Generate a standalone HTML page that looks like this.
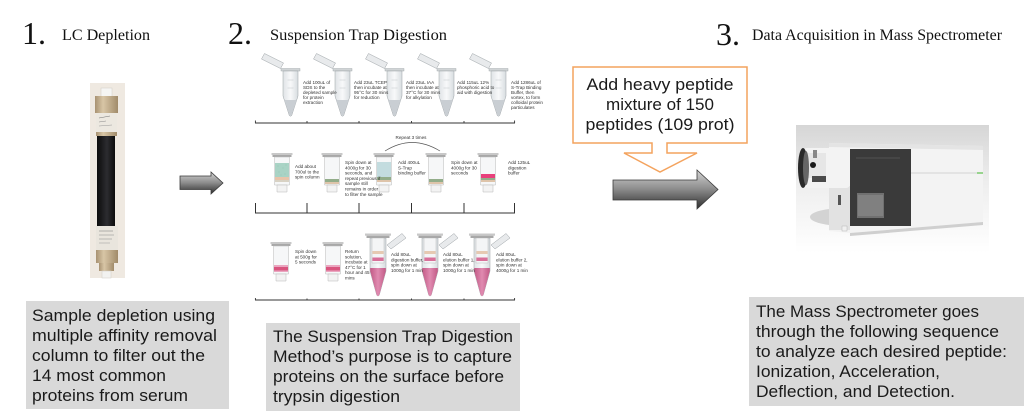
<!DOCTYPE html>
<html>
<head>
<meta charset="utf-8">
<style>
  html, body { margin:0; padding:0; background:#fff; }
  body { width:1024px; height:417px; overflow:hidden; }
  svg { display:block; }
  .serif { font-family:"Liberation Serif","DejaVu Serif",serif; fill:#111; }
  .sans { font-family:"Liberation Sans","DejaVu Sans",sans-serif; fill:#1a1a1a; }
  .tiny { font-family:"Liberation Sans","DejaVu Sans",sans-serif; font-size:4.6px; fill:#333; }
</style>
</head>
<body>
<svg width="1024" height="417" viewBox="0 0 1024 417" xmlns="http://www.w3.org/2000/svg">
  <defs>
    <linearGradient id="garrow" x1="0" y1="0" x2="0" y2="1">
      <stop offset="0" stop-color="#d4d4d4"/>
      <stop offset="0.5" stop-color="#8a8a8a"/>
      <stop offset="1" stop-color="#2e2e2e"/>
    </linearGradient>
    <linearGradient id="tan" x1="0" y1="0" x2="1" y2="0">
      <stop offset="0" stop-color="#a89272"/>
      <stop offset="0.35" stop-color="#d8c6a6"/>
      <stop offset="1" stop-color="#a18b6a"/>
    </linearGradient>
    <linearGradient id="blk" x1="0" y1="0" x2="1" y2="0">
      <stop offset="0" stop-color="#0c0c0c"/>
      <stop offset="0.55" stop-color="#2c2c30"/>
      <stop offset="1" stop-color="#0c0c0c"/>
    </linearGradient>
    <linearGradient id="msbg" x1="0" y1="0" x2="0" y2="1">
      <stop offset="0" stop-color="#d6d6d6"/>
      <stop offset="0.45" stop-color="#eeeeee"/>
      <stop offset="1" stop-color="#ffffff"/>
    </linearGradient>
    <linearGradient id="tube" x1="0" y1="0" x2="1" y2="0">
      <stop offset="0" stop-color="#dfe3e6"/>
      <stop offset="0.5" stop-color="#f8f9fa"/>
      <stop offset="1" stop-color="#d8dde0"/>
    </linearGradient>
    <linearGradient id="pink" x1="0" y1="0" x2="1" y2="0">
      <stop offset="0" stop-color="#c25a86"/>
      <stop offset="0.5" stop-color="#e08ab0"/>
      <stop offset="1" stop-color="#c25a86"/>
    </linearGradient>

    <!-- microcentrifuge tube, lid to upper-left -->
    <g id="mtube">
      <polygon points="-10,68.5 -29,59 -26,53.5 -7,63" fill="#e8eaec" stroke="#9aa0a4" stroke-width="0.5"/>
      <rect x="-9.5" y="68.5" width="19" height="2.5" fill="#d0d4d6" stroke="#9aa0a4" stroke-width="0.4"/>
      <path d="M-7.5,71 V96 L-1.2,115.5 Q0,117 1.2,115.5 L7.5,96 V71 Z" fill="url(#tube)" stroke="#9aa0a4" stroke-width="0.5"/>
      <path d="M-6.2,100 H6.2 L1,115.3 Q0,116.4 -1,115.3 Z" fill="#c9ced3"/>
      <line x1="-3" y1="80" x2="3" y2="80" stroke="#b5bbbf" stroke-width="0.4"/>
      <line x1="-3" y1="88" x2="3" y2="88" stroke="#b5bbbf" stroke-width="0.4"/>
    </g>

    <!-- spin column -->
    <g id="spin">
      <rect x="-10.5" y="0" width="21" height="2" fill="#c8c8c8"/>
      <rect x="-9.5" y="2" width="19" height="2" fill="#a8a8a8"/>
      <path d="M-7.5,4 V32 H7.5 V4 Z" fill="#f6f7f8" stroke="#b8b8b8" stroke-width="0.5"/>
      <path d="M-5,32 V39 H5 V32 Z" fill="#f3f3f3" stroke="#b8b8b8" stroke-width="0.5"/>
    </g>

    <!-- tube with column, lid to upper-right -->
    <g id="ctube">
      <polygon points="9,245 24,233.5 28,238 13,249" fill="#e8eaec" stroke="#9aa0a4" stroke-width="0.5"/>
      <path d="M-8,238 V271 L-1.3,295 Q0,297 1.3,295 L8,271 V238 Z" fill="url(#tube)" stroke="#9aa0a4" stroke-width="0.5"/>
      <path d="M-7.8,268 H7.8 V271 L1.3,295 Q0,297 -1.3,295 L-7.8,271 Z" fill="url(#pink)"/>
      <rect x="-6" y="238" width="12" height="25" fill="#f4f5f6" stroke="#b0b0b0" stroke-width="0.4"/>
      <rect x="-5.6" y="251" width="11.2" height="3" fill="#e6c9b2"/>
      <rect x="-5.6" y="257.5" width="11.2" height="3.5" fill="#d9709a"/>
      <rect x="-13" y="233.5" width="26" height="2.2" fill="#c8c8c8"/>
      <rect x="-11.5" y="235.7" width="23" height="2.3" fill="#a8a8a8"/>
    </g>
  </defs>

  <rect width="1024" height="417" fill="#fff"/>

  <!-- Headings -->
  <text class="serif" x="22" y="44" font-size="32">1.</text>
  <text class="serif" x="62" y="40" font-size="16" textLength="88" lengthAdjust="spacingAndGlyphs">LC Depletion</text>
  <text class="serif" x="228" y="44" font-size="32">2.</text>
  <text class="serif" x="270" y="40" font-size="16" textLength="177" lengthAdjust="spacingAndGlyphs">Suspension Trap Digestion</text>
  <text class="serif" x="716" y="45" font-size="32">3.</text>
  <text class="serif" x="752" y="40" font-size="16" textLength="250" lengthAdjust="spacingAndGlyphs">Data Acquisition in Mass Spectrometer</text>

  <!-- LC column photo -->
  <g>
    <rect x="90" y="83" width="35" height="195" fill="#efe9e1"/>
    <rect x="101" y="88" width="11" height="9" fill="#f5f5f3" stroke="#d0ccc4" stroke-width="0.5"/>
    <rect x="95" y="96" width="23" height="17" fill="url(#tan)"/>
    <rect x="96" y="113" width="21" height="20" fill="#ece8e0"/>
    <line x1="99" y1="118" x2="110" y2="116" stroke="#777" stroke-width="0.6"/>
    <line x1="99" y1="122" x2="106" y2="121" stroke="#888" stroke-width="0.5"/>
    <line x1="99" y1="126" x2="112" y2="125" stroke="#999" stroke-width="0.5"/>
    <rect x="96" y="132" width="21" height="4" fill="url(#tan)"/>
    <rect x="97" y="136" width="18" height="90" fill="url(#blk)"/>
    <rect x="96" y="226" width="22" height="24" fill="#e9e5dd"/>
    <line x1="99" y1="231" x2="113" y2="231" stroke="#777" stroke-width="0.5"/>
    <line x1="99" y1="235" x2="114" y2="235" stroke="#888" stroke-width="0.5"/>
    <line x1="99" y1="239" x2="112" y2="239" stroke="#888" stroke-width="0.5"/>
    <line x1="99" y1="243" x2="110" y2="243" stroke="#999" stroke-width="0.5"/>
    <rect x="96" y="250" width="22" height="13" fill="url(#tan)"/>
    <rect x="99" y="263" width="15" height="8" fill="url(#tan)"/>
    <rect x="102" y="271" width="9" height="7" fill="#f2f2f0" stroke="#d0ccc4" stroke-width="0.5"/>
  </g>

  <!-- Arrow 1 -->
  <path d="M180,176 L211,176 L211,172 L223,183 L211,194 L211,189.5 L180,189.5 Z" fill="url(#garrow)" stroke="#3a3a3a" stroke-width="0.8"/>

  <!-- Protocol row 1 -->
  <use href="#mtube" x="290.5" y="0"/>
  <use href="#mtube" x="342.5" y="0"/>
  <use href="#mtube" x="394.5" y="0"/>
  <use href="#mtube" x="446.5" y="0"/>
  <use href="#mtube" x="498.5" y="0"/>
  <text class="tiny"><tspan x="303" y="84">Add 100uL of</tspan><tspan x="303" dy="5">SDS to the</tspan><tspan x="303" dy="5">depleted sample</tspan><tspan x="303" dy="5">for protein</tspan><tspan x="303" dy="5">extraction</tspan></text>
  <text class="tiny"><tspan x="354" y="84">Add 23uL TCEP</tspan><tspan x="354" dy="5">then incubate at</tspan><tspan x="354" dy="5">95°C for 30 mins</tspan><tspan x="354" dy="5">for reduction</tspan></text>
  <text class="tiny"><tspan x="406" y="84">Add 23uL IAA</tspan><tspan x="406" dy="5">then incubate at</tspan><tspan x="406" dy="5">37°C for 30 mins</tspan><tspan x="406" dy="5">for alkylation</tspan></text>
  <text class="tiny"><tspan x="457" y="84">Add 115uL 12%</tspan><tspan x="457" dy="5">phosphoric acid to</tspan><tspan x="457" dy="5">aid with digestion</tspan></text>
  <text class="tiny"><tspan x="511" y="84">Add 1286uL of</tspan><tspan x="511" dy="5">S-Trap Binding</tspan><tspan x="511" dy="5">Buffer, then</tspan><tspan x="511" dy="5">vortex, to form</tspan><tspan x="511" dy="5">colloidal protein</tspan><tspan x="511" dy="5">particulates</tspan></text>
  <g stroke="#333" stroke-width="0.9" fill="none">
    <line x1="255" y1="123" x2="515" y2="123"/>
    <line x1="255.4" y1="120.5" x2="255.4" y2="123"/>
    <line x1="307" y1="121" x2="307" y2="123"/>
    <line x1="359" y1="121" x2="359" y2="123"/>
    <line x1="411.5" y1="121" x2="411.5" y2="123"/>
    <line x1="464" y1="121" x2="464" y2="123"/>
    <line x1="514.6" y1="120.5" x2="514.6" y2="123"/>
  </g>

  <!-- Repeat arc -->
  <text class="tiny" x="411" y="139" text-anchor="middle">Repeat 3 times</text>
  <path d="M385,151 Q412,134 440,151" fill="none" stroke="#555" stroke-width="0.7"/>

  <!-- Protocol row 2 -->
  <use href="#spin" x="282" y="153"/>
  <use href="#spin" x="332" y="153"/>
  <use href="#spin" x="384" y="153"/>
  <use href="#spin" x="436" y="153"/>
  <use href="#spin" x="488" y="153"/>
  <!-- fills row 2 -->
  <rect x="275" y="163" width="14" height="14" fill="#a9d3c5"/>
  <g fill="#8fc2b2" opacity="0.7">
    <circle cx="278" cy="166" r="0.6"/><circle cx="283" cy="168" r="0.6"/><circle cx="286" cy="165" r="0.6"/>
    <circle cx="279" cy="172" r="0.6"/><circle cx="285" cy="174" r="0.6"/><circle cx="281" cy="175" r="0.6"/>
  </g>
  <rect x="275" y="177" width="14" height="3" fill="#e8c4aa"/>
  <rect x="275" y="180" width="14" height="2" fill="#d8d2c4"/>

  <rect x="325" y="179" width="14" height="3" fill="#93ad8a"/>
  <rect x="325" y="182" width="14" height="2" fill="#dec4aa"/>

  <rect x="377" y="162" width="14" height="15" fill="#c3dcdf"/>
  <rect x="377" y="177" width="14" height="3" fill="#93ad8a"/>
  <rect x="377" y="180" width="14" height="2" fill="#dec4aa"/>

  <rect x="429" y="179" width="14" height="3" fill="#93ad8a"/>
  <rect x="429" y="182" width="14" height="2" fill="#dec4aa"/>

  <rect x="481" y="174" width="14" height="4" fill="#e8407c"/>
  <rect x="481" y="178" width="14" height="2" fill="#93ad8a"/>
  <rect x="481" y="180" width="14" height="2" fill="#dec4aa"/>

  <text class="tiny"><tspan x="295" y="168">Add about</tspan><tspan x="295" dy="5.3">700ul to the</tspan><tspan x="295" dy="5.3">spin column</tspan></text>
  <text class="tiny"><tspan x="345" y="164">Spin down at</tspan><tspan x="345" dy="5.3">4000g for 30</tspan><tspan x="345" dy="5.3">seconds, and</tspan><tspan x="345" dy="5.3">repeat previous if</tspan><tspan x="345" dy="5.3">sample still</tspan><tspan x="345" dy="5.3">remains in order</tspan><tspan x="345" dy="5.3">to filter the sample</tspan></text>
  <text class="tiny"><tspan x="398" y="164">Add 400uL</tspan><tspan x="398" dy="5.3">S-Trap</tspan><tspan x="398" dy="5.3">binding buffer</tspan></text>
  <text class="tiny"><tspan x="451" y="164">Spin down at</tspan><tspan x="451" dy="5.3">4000g for 30</tspan><tspan x="451" dy="5.3">seconds</tspan></text>
  <text class="tiny"><tspan x="508" y="164">Add 125uL</tspan><tspan x="508" dy="5.3">digestion</tspan><tspan x="508" dy="5.3">buffer</tspan></text>
  <g stroke="#333" stroke-width="1" fill="none">
    <line x1="255" y1="213" x2="515" y2="213"/>
    <line x1="255.5" y1="203" x2="255.5" y2="213"/>
    <line x1="307" y1="203" x2="307" y2="213"/>
    <line x1="359" y1="203" x2="359" y2="213"/>
    <line x1="411.5" y1="203" x2="411.5" y2="213"/>
    <line x1="464" y1="203" x2="464" y2="213"/>
    <line x1="514.5" y1="203" x2="514.5" y2="213"/>
  </g>

  <!-- Protocol row 3 -->
  <use href="#spin" x="281" y="242"/>
  <use href="#spin" x="333" y="242"/>
  <rect x="274" y="265" width="14" height="2" fill="#eaa6c0"/>
  <rect x="274" y="267" width="14" height="3.5" fill="#d9557f"/>
  <rect x="274" y="270.5" width="14" height="1.5" fill="#eaa6c0"/>
  <rect x="326" y="265" width="14" height="2" fill="#eaa6c0"/>
  <rect x="326" y="267" width="14" height="3.5" fill="#d9557f"/>
  <rect x="326" y="270.5" width="14" height="1.5" fill="#eaa6c0"/>
  <use href="#ctube" x="378" y="0"/>
  <use href="#ctube" x="430" y="0"/>
  <use href="#ctube" x="482" y="0"/>
  <text class="tiny"><tspan x="295" y="253">Spin down</tspan><tspan x="295" dy="5.3">at 500g for</tspan><tspan x="295" dy="5.3">5 seconds</tspan></text>
  <text class="tiny"><tspan x="345" y="253">Return</tspan><tspan x="345" dy="5.3">solution,</tspan><tspan x="345" dy="5.3">incubate at</tspan><tspan x="345" dy="5.3">47°C for 1</tspan><tspan x="345" dy="5.3">hour and 45</tspan><tspan x="345" dy="5.3">mins</tspan></text>
  <text class="tiny"><tspan x="391" y="256">Add 80uL</tspan><tspan x="391" dy="5.3">digestion buffer,</tspan><tspan x="391" dy="5.3">spin down at</tspan><tspan x="391" dy="5.3">1000g for 1 min</tspan></text>
  <text class="tiny"><tspan x="443" y="256">Add 80uL</tspan><tspan x="443" dy="5.3">elution buffer 1,</tspan><tspan x="443" dy="5.3">spin down at</tspan><tspan x="443" dy="5.3">1000g for 1 min</tspan></text>
  <text class="tiny"><tspan x="496" y="256">Add 80uL</tspan><tspan x="496" dy="5.3">elution buffer 2,</tspan><tspan x="496" dy="5.3">spin down at</tspan><tspan x="496" dy="5.3">4000g for 1 min</tspan></text>
  <g stroke="#333" stroke-width="0.9" fill="none">
    <line x1="255" y1="300" x2="515" y2="300"/>
    <line x1="255.4" y1="298" x2="255.4" y2="300"/>
    <line x1="307" y1="298.5" x2="307" y2="300"/>
    <line x1="359" y1="298.5" x2="359" y2="300"/>
    <line x1="411.5" y1="298.5" x2="411.5" y2="300"/>
    <line x1="464" y1="298.5" x2="464" y2="300"/>
    <line x1="514.6" y1="298" x2="514.6" y2="300"/>
  </g>

  <!-- Callout with down arrow -->
  <path d="M573,67 H747 V143 H667 V153 H697 L660,172 L624,153 H652 V143 H573 Z" fill="#fff" stroke="#f4a35e" stroke-width="1.5" stroke-linejoin="miter"/>
  <text class="sans" x="660" y="90" font-size="17" text-anchor="middle" textLength="147" lengthAdjust="spacingAndGlyphs">Add heavy peptide</text>
  <text class="sans" x="660" y="110" font-size="17" text-anchor="middle" textLength="108" lengthAdjust="spacingAndGlyphs">mixture of 150</text>
  <text class="sans" x="660" y="130" font-size="17" text-anchor="middle" textLength="149" lengthAdjust="spacingAndGlyphs">peptides (109 prot)</text>

  <!-- Big arrow -->
  <path d="M613,180 L697,180 L697,170 L718,189.5 L697,209 L697,200 L613,200 Z" fill="url(#garrow)" stroke="#3a3a3a" stroke-width="0.8"/>

  <!-- Mass spectrometer -->
  <g>
    <rect x="796" y="125" width="193" height="128" fill="url(#msbg)"/>
    <ellipse cx="845" cy="217" rx="35" ry="9" fill="#d3d3d3"/>
    <polygon points="829,143 983,146 983,222 850,233 829,231" fill="#f3f3f3"/>
    <polygon points="829,143 983,146 983,150 829,147" fill="#e4e4e4"/>
    <line x1="911" y1="173" x2="982" y2="173" stroke="#c9c9c9" stroke-width="0.8"/>
    <line x1="977" y1="173" x2="983" y2="173" stroke="#5cbf4a" stroke-width="1.2"/>
    <polygon points="850,233 983,222 983,225 850,236" fill="#cfcfcf"/>
    <rect x="850" y="149" width="61" height="77" fill="#3a3a3a"/>
    <rect x="857" y="193" width="27" height="25" fill="#707070"/>
    <rect x="858" y="195" width="25" height="21" fill="#8a8a8a" opacity="0.6"/>
    <line x1="856" y1="158" x2="900" y2="158" stroke="#777" stroke-width="0.4"/>
    <rect x="829" y="186" width="21" height="44" fill="#e2e2e2"/>
    <rect x="838" y="195" width="3" height="10" fill="#555"/>
    <rect x="803" y="148" width="47" height="40" rx="4" fill="#f3f3f3"/>
    <rect x="808" y="153" width="18" height="25" fill="#e6e6e6"/>
    <ellipse cx="803" cy="168" rx="5" ry="20" fill="#2a2a2a"/>
    <ellipse cx="806" cy="168" rx="3" ry="17" fill="#666"/>
    <circle cx="813" cy="165" r="3" fill="#1a1a1a"/>
    <rect x="812" y="176" width="14" height="6" fill="#4a4a4a"/>
    <rect x="813" y="150" width="4" height="8" fill="#888"/>
    <rect x="842" y="226" width="5" height="5" fill="#f0f0f0" stroke="#aaa" stroke-width="0.4"/>
  </g>

  <!-- Gray text boxes -->
  <rect x="26" y="301" width="203" height="108" fill="#d9d9d9"/>
  <g class="sans" font-size="17">
    <text class="sans" x="32" y="321" font-size="17" textLength="183" lengthAdjust="spacingAndGlyphs">Sample depletion using</text>
    <text class="sans" x="32" y="341" font-size="17" textLength="185" lengthAdjust="spacingAndGlyphs">multiple affinity removal</text>
    <text class="sans" x="32" y="361" font-size="17" textLength="173" lengthAdjust="spacingAndGlyphs">column to filter out the</text>
    <text class="sans" x="32" y="381" font-size="17" textLength="134" lengthAdjust="spacingAndGlyphs">14 most common</text>
    <text class="sans" x="32" y="401" font-size="17" textLength="156" lengthAdjust="spacingAndGlyphs">proteins from serum</text>
  </g>

  <rect x="266" y="323" width="254" height="88" fill="#d9d9d9"/>
  <text class="sans" x="273" y="342" font-size="17" textLength="240" lengthAdjust="spacingAndGlyphs">The Suspension Trap Digestion</text>
  <text class="sans" x="273" y="362" font-size="17" textLength="239" lengthAdjust="spacingAndGlyphs">Method’s purpose is to capture</text>
  <text class="sans" x="273" y="382" font-size="17" textLength="231" lengthAdjust="spacingAndGlyphs">proteins on the surface before</text>
  <text class="sans" x="273" y="402" font-size="17" textLength="127" lengthAdjust="spacingAndGlyphs">trypsin digestion</text>

  <rect x="749" y="297" width="275" height="109" fill="#d9d9d9"/>
  <text class="sans" x="756" y="317" font-size="17" textLength="223" lengthAdjust="spacingAndGlyphs">The Mass Spectrometer goes</text>
  <text class="sans" x="756" y="337" font-size="17" textLength="243" lengthAdjust="spacingAndGlyphs">through the following sequence</text>
  <text class="sans" x="756" y="357" font-size="17" textLength="251" lengthAdjust="spacingAndGlyphs">to analyze each desired peptide:</text>
  <text class="sans" x="756" y="377" font-size="17" textLength="184" lengthAdjust="spacingAndGlyphs">Ionization, Acceleration,</text>
  <text class="sans" x="756" y="397" font-size="17" textLength="199" lengthAdjust="spacingAndGlyphs">Deflection, and Detection.</text>
</svg>
</body>
</html>
